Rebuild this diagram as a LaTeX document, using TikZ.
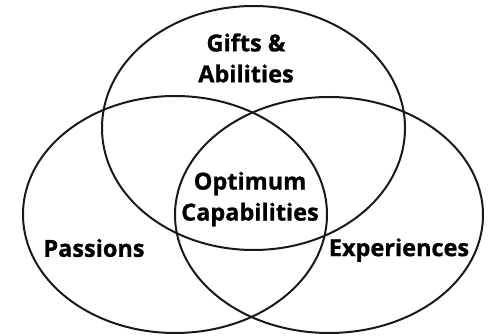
\documentclass[tikz,border=0pt]{standalone}
\usepackage{fontspec}
\setmainfont{Open Sans}[BoldFeatures={FakeBold=1}]
\begin{document}
\begin{tikzpicture}[x=1pt,y=-1pt,
  ring/.style={draw=black!90,line width=2pt},
  lbl/.style={font=\fontsize{23.5}{31}\selectfont\bfseries,align=center,inner sep=0pt}]
\useasboundingbox (0,0) rectangle (491,336);
\draw[ring] (253.5,128) ellipse [x radius=151.5, y radius=122];
\draw[ring] (175,214.5) ellipse [x radius=152, y radius=118.5];
\draw[ring] (329,215) ellipse [x radius=154, y radius=118];
\node[lbl] (gifts) at (246,58) {Gifts \&\\Abilities};
\node[lbl] (opt) at (250,199) {Optimum\\Capabilities};
\node[lbl] (pas) at (94,248) {Passions};
\node[lbl] (exp) at (399,250) {Experiences};
\end{tikzpicture}
\end{document}
